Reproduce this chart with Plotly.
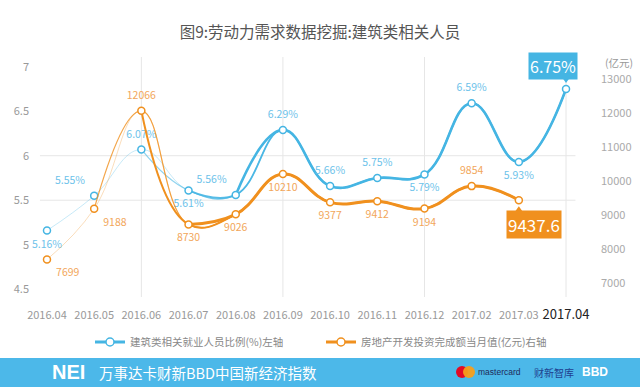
import plotly.graph_objects as go

# ---------------- data ----------------
months = ["2016.04", "2016.05", "2016.06", "2016.07", "2016.08", "2016.09",
          "2016.10", "2016.11", "2016.12", "2017.02", "2017.03", "2017.04"]
employment_pct = [5.16, 5.55, 6.07, 5.61, 5.56, 6.29, 5.66, 5.75, 5.79, 6.59, 5.93, 6.75]
investment = [7699, 9188, 12066, 8730, 9026, 10210, 9377, 9412, 9194, 9854, 9437.6, None]
left_ticks = [4.5, 5, 5.5, 6, 6.5, 7]
right_ticks = [7000, 8000, 9000, 10000, 11000, 12000, 13000]

series_blue_name = "建筑类相关就业人员比例(%)左轴"
series_orange_name = "房地产开发投资完成额当月值(亿元)右轴"

# ---------------- styles ----------------
BLUE = "#45b5e3"
ORANGE = "#f0901e"
BLUE_LBL = "#6cc2ea"
ORANGE_LBL = "#f2a65a"
FONT = "Noto Sans CJK SC, Lato, sans-serif"

x = list(range(len(months)))
W, H = 640, 387
L, R, T, B = 30, 40, 57, 90
plot_w = W - L - R
plot_h = H - T - B


def px_x(px):
    return (px - L) / plot_w


def px_y(py):
    return (H - B - py) / plot_h


fig = go.Figure()

# line segments with growing width (start index, width, opacity)
blue_segments = [(0, 1.0, 0.3), (2, 1.2, 0.6), (3, 1.8, 0.9), (4, 2.6, 1.0)]
orange_segments = [(0, 1.0, 0.3), (1, 1.2, 0.8), (2, 2.0, 1.0), (3, 3.0, 1.0)]


def rgba(hex_color, a):
    h = hex_color.lstrip("#")
    r, g, b = int(h[0:2], 16), int(h[2:4], 16), int(h[4:6], 16)
    return f"rgba({r},{g},{b},{a})"


for start, w, a in blue_segments:
    fig.add_trace(go.Scatter(x=x[start:], y=employment_pct[start:], mode="lines",
                             line=dict(color=rgba(BLUE, a), width=w, shape="spline", smoothing=1.25),
                             showlegend=False, hoverinfo="skip", yaxis="y"))
o_x = [xi for xi, v in zip(x, investment) if v is not None]
o_y = [v for v in investment if v is not None]
for start, w, a in orange_segments:
    fig.add_trace(go.Scatter(x=o_x[start:], y=o_y[start:], mode="lines",
                             line=dict(color=rgba(ORANGE, a), width=w, shape="spline", smoothing=1.25),
                             showlegend=False, hoverinfo="skip", yaxis="y2"))

# markers
fig.add_trace(go.Scatter(x=x, y=employment_pct, mode="markers",
                         marker=dict(symbol="circle", size=7, color="white",
                                     line=dict(color=BLUE, width=1.5)),
                         showlegend=False, yaxis="y"))
fig.add_trace(go.Scatter(x=o_x, y=o_y, mode="markers",
                         marker=dict(symbol="circle", size=7, color="white",
                                     line=dict(color=ORANGE, width=1.5)),
                         showlegend=False, yaxis="y2"))

# data labels (last values are shown as callouts); invisible markers give the text its offset
blue_pos = ["bottom center", "top left", "top center", "bottom center", "top left",
            "top center", "top center", "top center", "bottom center", "top center",
            "bottom center"]
orange_pos = ["bottom right", "bottom right", "top center", "bottom center", "bottom center",
              "bottom center", "bottom center", "bottom center", "bottom center", "top center"]
fig.add_trace(go.Scatter(x=x[:-1], y=employment_pct[:-1], mode="markers+text",
                         marker=dict(size=13, color="rgba(0,0,0,0)"),
                         text=[f"{v:.2f}%" for v in employment_pct[:-1]],
                         textposition=blue_pos,
                         textfont=dict(color=BLUE_LBL, size=10.5, family=FONT),
                         showlegend=False, hoverinfo="skip", yaxis="y"))
fig.add_trace(go.Scatter(x=o_x[:-1], y=o_y[:-1], mode="markers+text",
                         marker=dict(size=13, color="rgba(0,0,0,0)"),
                         text=[f"{v:g}" for v in o_y[:-1]],
                         textposition=orange_pos,
                         textfont=dict(color=ORANGE_LBL, size=10.5, family=FONT),
                         showlegend=False, hoverinfo="skip", yaxis="y2"))

# legend-only traces
fig.add_trace(go.Scatter(x=[None], y=[None], mode="lines+markers", name=series_blue_name,
                         line=dict(color=BLUE, width=3),
                         marker=dict(size=8, color="white", line=dict(color=BLUE, width=1.5))))
fig.add_trace(go.Scatter(x=[None], y=[None], mode="lines+markers", name=series_orange_name,
                         line=dict(color=ORANGE, width=3),
                         marker=dict(size=8, color="white", line=dict(color=ORANGE, width=1.5))))

shapes = []
# horizontal grid lines at 5.5 and 6
for gy in [5.5, 6]:
    shapes.append(dict(type="line", xref="x", yref="y", x0=-0.15, x1=11.2, y0=gy, y1=gy,
                       line=dict(color="#e6e6e6", width=1), layer="below"))
# vertical grid lines
for gx in [2, 5, 8, 11]:
    shapes.append(dict(type="line", xref="x", yref="paper", x0=gx, x1=gx, y0=0, y1=1,
                       line=dict(color="#e6e6e6", width=1), layer="below"))

# callout triangles
shapes.append(dict(type="path", xref="x", yref="y", xsizemode="pixel", ysizemode="pixel",
                   xanchor=x[-1], yanchor=employment_pct[-1],
                   path="M -5,13 L 5,13 L 0,6 Z", fillcolor=BLUE, line=dict(width=0)))
shapes.append(dict(type="path", xref="x", yref="y2", xsizemode="pixel", ysizemode="pixel",
                   xanchor=o_x[-1], yanchor=o_y[-1],
                   path="M -5,-13 L 5,-13 L 0,-6 Z", fillcolor=ORANGE, line=dict(width=0)))

# bottom banner
shapes.append(dict(type="rect", xref="paper", yref="paper",
                   x0=px_x(-2), x1=px_x(W + 2), y0=px_y(H + 2), y1=px_y(358),
                   fillcolor="#4cb8e9", line=dict(width=0), layer="below"))
# mastercard circles
for cx, col in [(462, "#eb001b"), (469, "#f79e1b")]:
    shapes.append(dict(type="circle", xref="paper", yref="paper",
                       xsizemode="pixel", ysizemode="pixel",
                       xanchor=px_x(cx), yanchor=px_y(372),
                       x0=-6, x1=6, y0=-6, y1=6,
                       fillcolor=col, line=dict(width=0), layer="above", opacity=0.95))


def banner_text(px, py, text, size, color, family=FONT):
    return dict(x=px_x(px), y=px_y(py), xref="paper", yref="paper", xanchor="left",
                yanchor="middle", text=text, showarrow=False,
                font=dict(color=color, size=size, family=family))


annotations = [
    dict(x=x[-1], y=employment_pct[-1], xref="x", yref="y", text=f"{employment_pct[-1]:.2f}%",
         showarrow=False, xshift=-13, yshift=23, bgcolor=BLUE, borderpad=1,
         xanchor="center", yanchor="middle",
         font=dict(color="white", size=16, family=FONT)),
    dict(x=o_x[-1], y=o_y[-1], xref="x", yref="y2", text=f"{o_y[-1]:g}",
         showarrow=False, xshift=15, yshift=-24, bgcolor=ORANGE, borderpad=1,
         xanchor="center", yanchor="middle",
         font=dict(color="white", size=17, family=FONT)),
    dict(x=px_x(619), y=px_y(62), xref="paper", yref="paper", text="(亿元)", showarrow=False,
         xanchor="center", yanchor="middle",
         font=dict(color="#999", size=10.5, family=FONT)),
    banner_text(50, 372, "<b>NEI</b>", 20, "white", "Liberation Sans, Arial"),
    banner_text(97, 372, "万事达卡财新BBD中国新经济指数", 14.5, "white"),
    banner_text(476, 372, "mastercard", 8.5, "#1e2a5a", "Liberation Sans, Arial"),
    banner_text(532, 372, "财新智库", 10, "#1f3f8f"),
    banner_text(580, 372, "<b>BBD</b>", 12, "white", "Liberation Sans, Arial"),
]

ticktext = [m if i < len(months) - 1 else f"<span style='font-size:13px;color:#222'>{m}</span>"
            for i, m in enumerate(months)]

fig.update_layout(
    width=W, height=H,
    margin=dict(l=L, r=R, t=T, b=B, autoexpand=False),
    paper_bgcolor="white", plot_bgcolor="white",
    font=dict(family=FONT, color="#999", size=11),
    title=dict(text="图9:劳动力需求数据挖掘:建筑类相关人员", x=0.5, xanchor="center",
               y=1 - 33 / H, yanchor="middle", xref="container",
               font=dict(size=15.5, color="#555", family=FONT)),
    xaxis=dict(range=[-0.36, 11.72], tickvals=x, ticktext=ticktext, showgrid=False,
               zeroline=False, showline=False, ticks="", tickfont=dict(size=11, color="#999"),
               ticklabelstandoff=10, fixedrange=True, automargin=False),
    yaxis=dict(range=[4.413, 7.109], tickvals=left_ticks, ticktext=[f"{v:g}" for v in left_ticks],
               showgrid=False, zeroline=False, showline=False, ticks="", automargin=False,
               tickfont=dict(size=11, color="#999")),
    yaxis2=dict(range=[6597, 13647], tickvals=right_ticks, ticktext=[str(v) for v in right_ticks],
                overlaying="y", side="right", showgrid=False, zeroline=False, showline=False,
                ticks="", automargin=False, tickfont=dict(size=11, color="#aaa")),
    legend=dict(orientation="h", x=px_x(90), y=px_y(342), xanchor="left", yanchor="middle",
                font=dict(size=10.5, color="#888", family=FONT),
                entrywidth=186, entrywidthmode="pixels", itemwidth=30,
                bgcolor="rgba(0,0,0,0)"),
    shapes=shapes,
    annotations=annotations,
    showlegend=True,
)

fig.write_html("out.html", config={"displayModeBar": False},
               post_script="document.body.style.margin='0';document.body.style.padding='0';")
